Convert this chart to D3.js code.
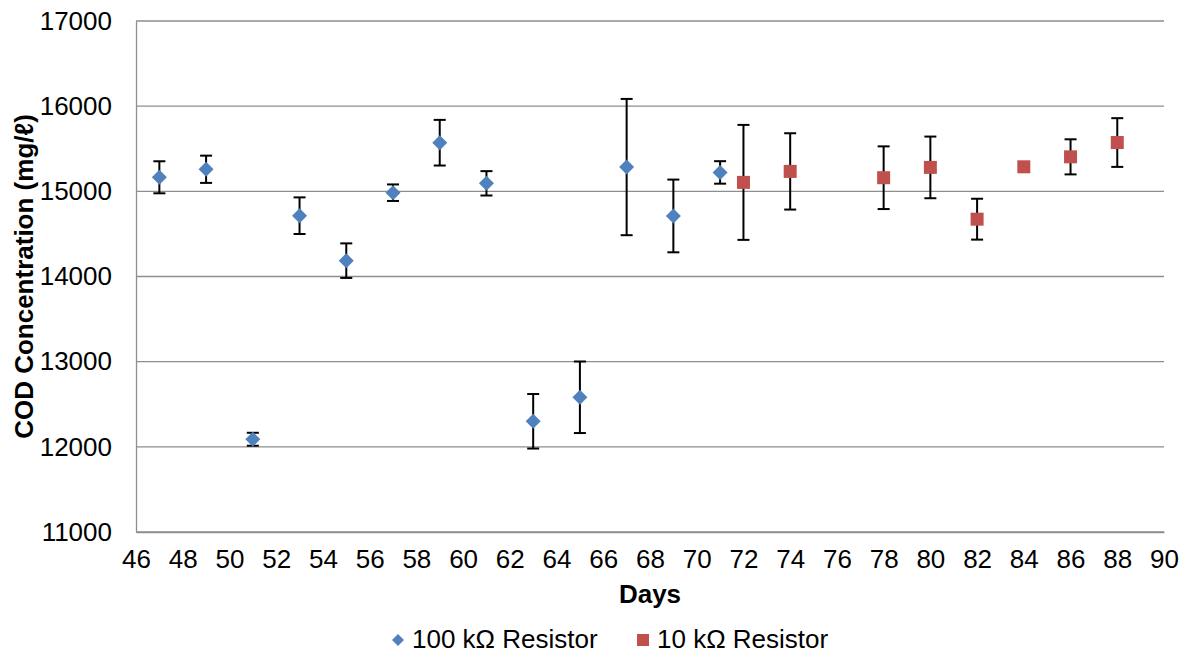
<!DOCTYPE html>
<html>
<head>
<meta charset="utf-8">
<script src="https://cdn.jsdelivr.net/npm/d3@7"></script>
<style>
  body { margin: 0; background: #fff; }
  text { font-family: Arial, "Liberation Sans", sans-serif; }
</style>
</head>
<body>
<div id="chart-area"></div>
<script>
// 100 kOhm series
var daysA = [47, 49, 51, 53, 55, 57, 59, 61, 63, 65, 67, 69, 71];
var codA  = [15165, 15259, 12089, 14714, 14186, 14984, 15571, 15094, 12300, 12582, 15285, 14711, 15222];
var errA  = [188, 160, 76, 215, 203, 97, 268, 143, 320, 420, 800, 427, 132];

// 10 kOhm series
var daysB = [72, 74, 78, 80, 82, 84, 86, 88];
var codB  = [15105, 15234, 15160, 15281, 14673, 15288, 15405, 15573];
var errB  = [675, 448, 368, 362, 240, 0, 206, 286];

var xTicks = d3.range(46, 91, 2);
var yTicks = [11000, 12000, 13000, 14000, 15000, 16000, 17000];
var seriesNames = ["100 k\u03A9 Resistor", "10 k\u03A9 Resistor"];

var margin = { left: 136, right: 20, top: 21, bottom: 123 };
var width = 1184 - margin.left - margin.right;
var height = 655 - margin.top - margin.bottom;

var svg = d3.select("#chart-area")
    .append("svg")
    .attr("width", 1184)
    .attr("height", 655);

var g = svg.append("g")
    .attr("transform", "translate(" + margin.left + "," + margin.top + ")");

var x = d3.scaleLinear().domain([46, 90]).range([0, width]);
var y = d3.scaleLinear().domain([11000, 17000]).range([height, 0]);

// gridlines
g.selectAll(".grid")
    .data(yTicks)
    .enter().append("line")
    .attr("x1", 0).attr("x2", width)
    .attr("y1", function(d) { return y(d); })
    .attr("y2", function(d) { return y(d); })
    .attr("stroke", "#8e8e8e")
    .attr("stroke-width", 1.3);

// y axis
var yAxis = g.append("g")
    .call(d3.axisLeft(y).tickValues(yTicks).tickSize(0).tickPadding(24).tickFormat(d3.format("d")));
yAxis.select(".domain").attr("stroke", "#8e8e8e").attr("stroke-width", 1.3);
yAxis.selectAll("text").attr("font-size", 26).attr("fill", "#000")
    .style("font-family", "Arial, 'Liberation Sans', sans-serif");

// x axis
var xAxis = g.append("g")
    .attr("transform", "translate(0," + height + ")")
    .call(d3.axisBottom(x).tickValues(xTicks).tickSize(0).tickPadding(18).tickFormat(d3.format("d")));
xAxis.select(".domain").attr("stroke", "#8e8e8e").attr("stroke-width", 1.3);
xAxis.selectAll("text").attr("font-size", 26).attr("fill", "#000")
    .style("font-family", "Arial, 'Liberation Sans', sans-serif");

// axis titles
svg.append("text")
    .attr("x", margin.left + x(68))
    .attr("y", 603)
    .attr("text-anchor", "middle")
    .attr("font-size", 26)
    .attr("font-weight", "bold")
    .text("Days");

svg.append("text")
    .attr("transform", "translate(33," + (margin.top + y(14000)) + ") rotate(-90)")
    .attr("text-anchor", "middle")
    .attr("font-size", 26)
    .attr("font-weight", "bold")
    .text("COD Concentration (mg/\u2113)");

function drawErrors(days, vals, errs) {
    var capW = 6;
    days.forEach(function(d, i) {
        if (errs[i] <= 0) return;
        var cx = x(d);
        var top = y(vals[i] + errs[i]);
        var bot = y(vals[i] - errs[i]);
        g.append("line").attr("x1", cx).attr("x2", cx).attr("y1", top).attr("y2", bot)
            .attr("stroke", "#000").attr("stroke-width", 2);
        g.append("line").attr("x1", cx - capW).attr("x2", cx + capW).attr("y1", top).attr("y2", top)
            .attr("stroke", "#000").attr("stroke-width", 2);
        g.append("line").attr("x1", cx - capW).attr("x2", cx + capW).attr("y1", bot).attr("y2", bot)
            .attr("stroke", "#000").attr("stroke-width", 2);
    });
}

drawErrors(daysA, codA, errA);
drawErrors(daysB, codB, errB);

var diamond = "M0,-7.5L7.5,0L0,7.5L-7.5,0Z";

g.selectAll(".ptA")
    .data(daysA)
    .enter().append("path")
    .attr("class", "ptA")
    .attr("d", diamond)
    .attr("transform", function(d, i) { return "translate(" + x(d) + "," + y(codA[i]) + ")"; })
    .attr("fill", "#4F81BD");

g.selectAll(".ptB")
    .data(daysB)
    .enter().append("rect")
    .attr("class", "ptB")
    .attr("x", function(d) { return x(d) - 6.5; })
    .attr("y", function(d, i) { return y(codB[i]) - 6.5; })
    .attr("width", 13)
    .attr("height", 13)
    .attr("fill", "#C0504D");

// legend
var leg = svg.append("g");
leg.append("path")
    .attr("d", "M0,-6L6,0L0,6L-6,0Z")
    .attr("transform", "translate(398,640)")
    .attr("fill", "#4F81BD");
leg.append("text")
    .attr("x", 412).attr("y", 648)
    .attr("font-size", 26)
    .text(seriesNames[0]);
leg.append("rect")
    .attr("x", 637).attr("y", 634)
    .attr("width", 12).attr("height", 12)
    .attr("fill", "#C0504D");
leg.append("text")
    .attr("x", 657).attr("y", 648)
    .attr("font-size", 26)
    .text(seriesNames[1]);
</script>
</body>
</html>
